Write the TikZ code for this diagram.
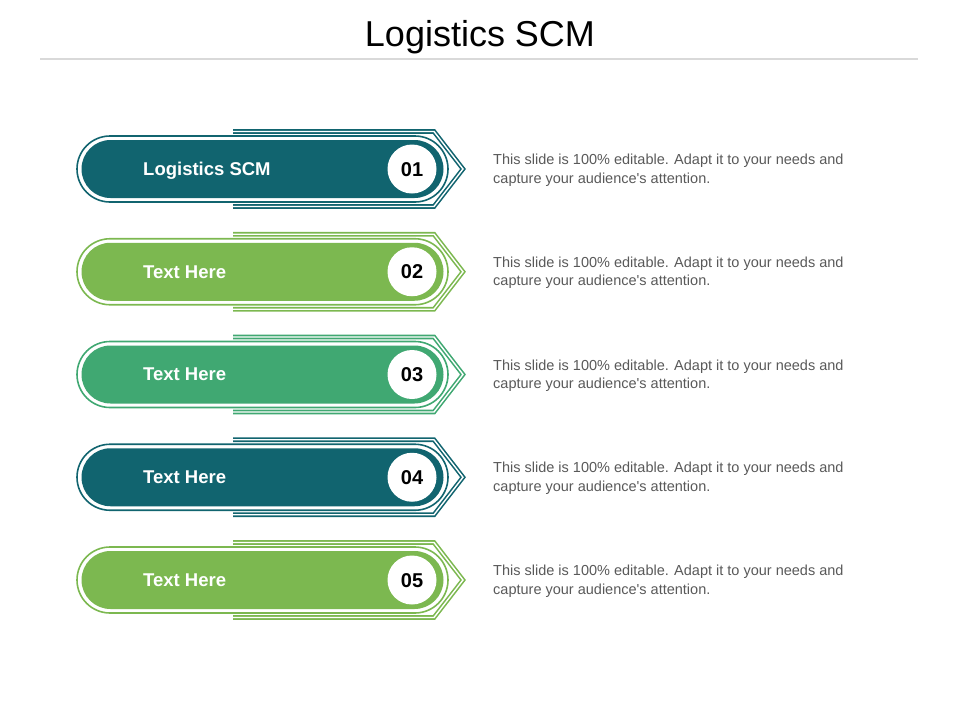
\documentclass[tikz,border=0pt]{standalone}
\usepackage{fontspec}
\setmainfont{Liberation Sans}
\newfontfamily\descfont{Liberation Sans}
\definecolor{cteal}{HTML}{11646F}
\definecolor{clgreen}{HTML}{7CB850}
\definecolor{cmgreen}{HTML}{40A872}
\definecolor{cdesc}{HTML}{595959}
\definecolor{crule}{HTML}{D9D9D9}
\begin{document}
\begin{tikzpicture}[x=1pt,y=-1pt,
  arrowline/.style={draw=#1, line width=1.6pt, double=white, double distance=1.4pt, line join=miter},
  capsline/.style={draw=#1, line width=1.6pt},
  capsfill/.style={fill=#1},
  numdisc/.style={fill=white},
  labeltext/.style={text=white, font=\bfseries\fontsize{18.5}{21}\selectfont, inner sep=0pt, anchor=base west},
  numtext/.style={text=black, font=\bfseries\fontsize{20}{24}\selectfont, inner sep=0pt, anchor=base},
  desctext/.style={text=cdesc, font=\descfont\fontsize{14.5}{18.5}\selectfont, align=left, inner sep=0pt, anchor=west},
  titletext/.style={text=black, font=\fontsize{36}{40}\selectfont, inner sep=0pt, anchor=base}
]
\useasboundingbox (0,0) rectangle (960,720);
\node[titletext] (title) at (480,46) {Logistics SCM};
\draw[crule, line width=2pt] (40,58.5) -- (918,58.5);
\foreach \i/\col/\lab in {1/cteal/Logistics SCM, 2/clgreen/Text Here, 3/cmgreen/Text Here, 4/cteal/Text Here, 5/clgreen/Text Here}{
  \pgfmathsetmacro{\cy}{169+102.75*(\i-1)}
  \draw[arrowline=\col] (233,\cy-37.5) -- (434,\cy-37.5) -- (463,\cy) -- (434,\cy+37.5) -- (233,\cy+37.5);
  \draw[capsline=\col, fill=white, rounded corners=33pt] (77,\cy-33) rectangle (448,\cy+33);
  \fill[capsfill=\col, rounded corners=29pt] (81.5,\cy-29) rectangle (443.5,\cy+29);
  \fill[numdisc] (412,\cy) circle (24.5pt);
  \node[labeltext] (lab\i) at (143,\cy+6.4) {\lab};
  \node[numtext] (num\i) at (412,\cy+7.2) {0\i};
  \node[desctext] (desc\i) at (493,\cy+1) {This slide is 100\% editable. Adapt it to your needs and\\capture your audience's attention.};
}
\end{tikzpicture}
\end{document}
